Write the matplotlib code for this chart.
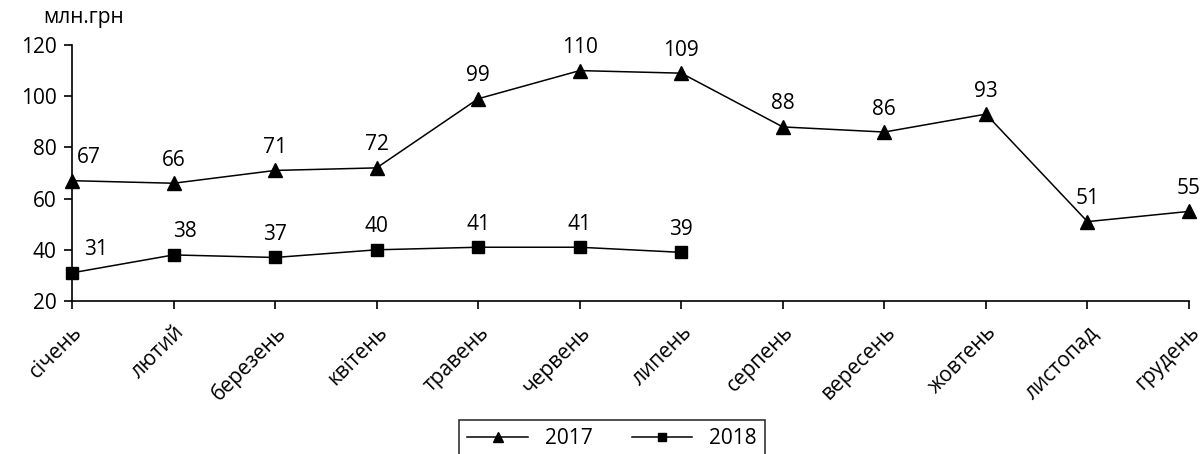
import matplotlib.pyplot as plt

plt.rcParams['font.family'] = ['Open Sans', 'DejaVu Sans']

months = ['січень', 'лютий', 'березень', 'квітень', 'травень', 'червень',
          'липень', 'серпень', 'вересень', 'жовтень', 'листопад', 'грудень']
v2017 = [67, 66, 71, 72, 99, 110, 109, 88, 86, 93, 51, 55]
v2018 = [31, 38, 37, 40, 41, 41, 39]
yticks = [20, 40, 60, 80, 100, 120]

fs = 15
fig = plt.figure(figsize=(12.03, 4.54), dpi=100)
ax = fig.add_axes([72/1203, 1-301/454, (1189-72)/1203, (301-45)/454])

x17 = list(range(len(v2017)))
x18 = list(range(len(v2018)))
ax.plot(x17, v2017, color='black', lw=1.1, marker='^', ms=10, label='2017')
ax.plot(x18, v2018, color='black', lw=1.1, marker='s', ms=8, label='2018')

for i, v in enumerate(v2017):
    dx = 12 if i == 0 else 0
    ax.annotate(str(v), (i, v), xytext=(dx, 9), textcoords='offset points',
                ha='center', va='bottom', fontsize=fs)
for i, v in enumerate(v2018):
    dx = 17 if i == 0 else (8 if i == 1 else 0)
    ax.annotate(str(v), (i, v), xytext=(dx, 9), textcoords='offset points',
                ha='center', va='bottom', fontsize=fs)

ax.set_xlim(0, 11)
ax.set_ylim(20, 120)
ax.set_yticks(yticks)
ax.set_xticks(x17)
ax.set_xticklabels(months, rotation=45, ha='right', rotation_mode='anchor', fontsize=fs)
ax.tick_params(axis='y', labelsize=fs, length=6, width=1.2, pad=5)
ax.tick_params(axis='x', length=6, width=1.2, pad=9)
ax.spines['top'].set_visible(False)
ax.spines['right'].set_visible(False)
ax.spines['left'].set_linewidth(1.2)
ax.spines['bottom'].set_linewidth(1.2)
for line in ax.lines:
    line.set_clip_on(False)

fig.text(43/1203, 1-18/454, 'млн.грн', fontsize=15, va='center')

leg = fig.legend(loc='upper center', bbox_to_anchor=(612/1203, 1-420/454), ncol=2,
                 fontsize=fs, frameon=True, fancybox=False, edgecolor='black',
                 borderpad=0.4, handlelength=2.9, columnspacing=1.9,
                 markerscale=0.75, borderaxespad=0)
leg.get_frame().set_linewidth(1.2)

fig.savefig('out.png', dpi=100)
